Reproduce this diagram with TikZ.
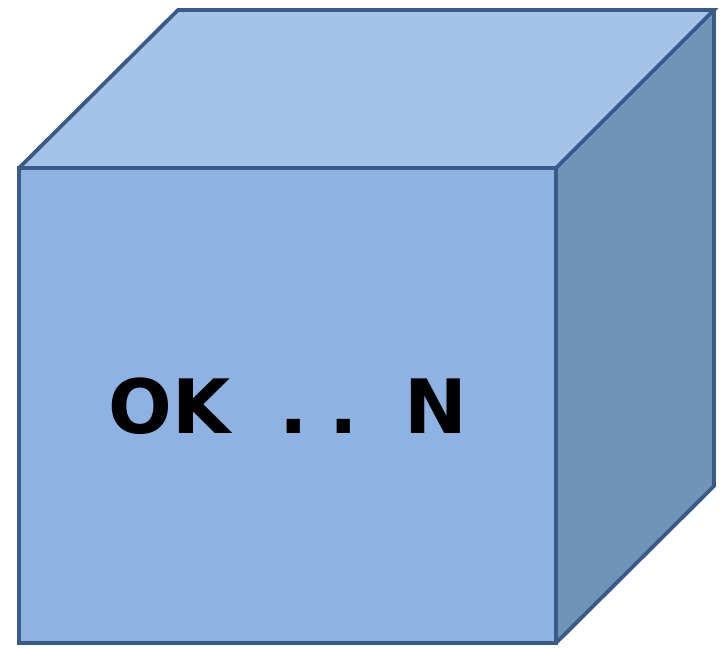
\documentclass[tikz,border=0pt]{standalone}
\usepackage{fontspec}
\setmainfont{DejaVu Sans}
\definecolor{frontc}{HTML}{8EB2E2}
\definecolor{topc}{HTML}{A3C3E8}
\definecolor{sidec}{HTML}{7093B8}
\definecolor{edgec}{HTML}{3A5A87}
\tikzset{face/.style={draw=edgec,line width=3.8pt,line join=miter}}
\begin{document}
\begin{tikzpicture}[x=1pt,y=-1pt]
\useasboundingbox (0,0) rectangle (727,647);
\coordinate (a) at (19,168);
\coordinate (b) at (556,168);
\coordinate (c) at (556,643);
\coordinate (d) at (19,643);
\coordinate (e) at (178,10);
\coordinate (f) at (714,10);
\coordinate (g) at (714,486);
\fill[topc] (a) -- (e) -- (f) -- (b) -- cycle;
\fill[sidec] (b) -- (f) -- (g) -- (c) -- cycle;
\draw[face,fill=frontc] (a) -- (b) -- (c) -- (d) -- cycle;
\draw[face] (a) -- (e) -- (f) -- (b);
\draw[face] (f) -- (g) -- (c);
\node[font=\bfseries\fontsize{75}{90}\selectfont,inner sep=0pt] (t) at (288,406) {OK\hspace{49pt}.\hspace{21pt}.\hspace{47pt}N};
\end{tikzpicture}
\end{document}
